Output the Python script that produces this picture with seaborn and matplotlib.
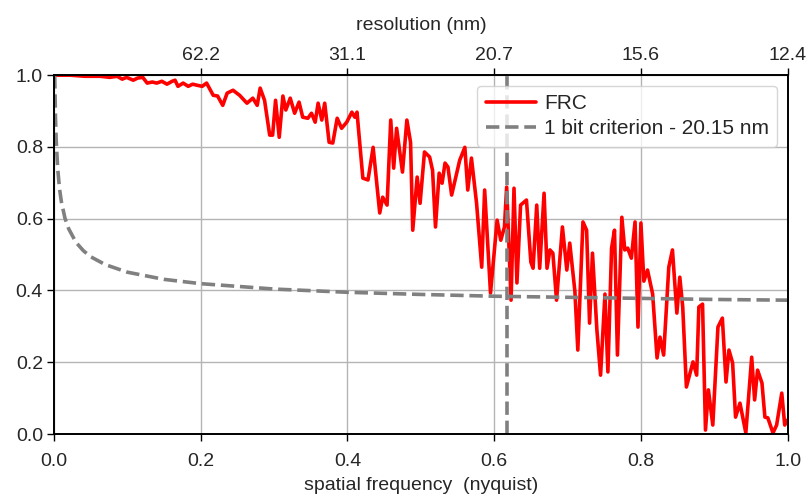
import matplotlib
matplotlib.use('Agg')
import matplotlib.pyplot as plt
import seaborn as sns

sns.set_theme(style='ticks', rc={'axes.edgecolor': 'black', 'grid.color': '#b4b4b4',
                                 'grid.linewidth': 1.0})
plt.rcParams['font.family'] = ['Liberation Sans', 'DejaVu Sans']
plt.rcParams['font.size'] = 14

# FRC curve (spatial frequency in nyquist units)
freq = [0.000, 0.022, 0.042, 0.063, 0.076, 0.086, 0.093, 0.099, 0.108, 0.114,
        0.121, 0.127, 0.134, 0.140, 0.147, 0.154, 0.161, 0.165, 0.169, 0.176,
        0.183, 0.189, 0.195, 0.202, 0.208, 0.217, 0.223, 0.230, 0.236, 0.244,
        0.253, 0.263, 0.271, 0.277, 0.281, 0.287, 0.294, 0.298, 0.302, 0.307,
        0.312, 0.316, 0.322, 0.328, 0.334, 0.339, 0.346, 0.351, 0.356, 0.360,
        0.365, 0.369, 0.375, 0.380, 0.386, 0.392, 0.399, 0.406, 0.410, 0.413,
        0.421, 0.428, 0.435, 0.444, 0.448, 0.454, 0.459, 0.463, 0.467, 0.475,
        0.481, 0.486, 0.489, 0.495, 0.499, 0.505, 0.512, 0.516, 0.520, 0.525,
        0.529, 0.533, 0.537, 0.542, 0.549, 0.553, 0.560, 0.564, 0.569, 0.576,
        0.583, 0.587, 0.595, 0.604, 0.609, 0.614, 0.617, 0.623, 0.627, 0.631,
        0.636, 0.644, 0.650, 0.653, 0.658, 0.662, 0.668, 0.672, 0.676, 0.680,
        0.685, 0.693, 0.699, 0.703, 0.710, 0.714, 0.721, 0.726, 0.730, 0.734,
        0.740, 0.745, 0.751, 0.755, 0.760, 0.764, 0.768, 0.774, 0.778, 0.782,
        0.787, 0.792, 0.796, 0.800, 0.804, 0.809, 0.816, 0.822, 0.826, 0.831,
        0.838, 0.843, 0.849, 0.853, 0.857, 0.862, 0.871, 0.876, 0.879, 0.884,
        0.888, 0.892, 0.898, 0.905, 0.911, 0.916, 0.920, 0.925, 0.929, 0.935,
        0.943, 0.951, 0.955, 0.959, 0.965, 0.969, 0.973, 0.980, 0.985, 0.992,
        0.996, 1.000]
frc = [1.000, 1.000, 0.997, 0.997, 0.994, 0.997, 0.989, 0.994, 0.986, 0.992,
       0.994, 0.978, 0.981, 0.978, 0.983, 0.975, 0.983, 0.986, 0.969, 0.978,
       0.969, 0.975, 0.972, 0.969, 0.978, 0.944, 0.942, 0.916, 0.950, 0.958,
       0.944, 0.922, 0.936, 0.916, 0.964, 0.930, 0.833, 0.833, 0.930, 0.827,
       0.942, 0.903, 0.936, 0.894, 0.925, 0.883, 0.880, 0.894, 0.869, 0.922,
       0.875, 0.922, 0.813, 0.811, 0.880, 0.852, 0.869, 0.897, 0.883, 0.897,
       0.713, 0.708, 0.799, 0.616, 0.660, 0.638, 0.875, 0.741, 0.852, 0.730,
       0.875, 0.813, 0.568, 0.716, 0.643, 0.786, 0.772, 0.735, 0.577, 0.727,
       0.699, 0.755, 0.744, 0.666, 0.727, 0.763, 0.799, 0.680, 0.769, 0.643,
       0.465, 0.680, 0.393, 0.596, 0.540, 0.577, 0.688, 0.373, 0.685, 0.421,
       0.638, 0.652, 0.479, 0.462, 0.638, 0.462, 0.671, 0.462, 0.513, 0.504,
       0.373, 0.577, 0.457, 0.532, 0.398, 0.234, 0.591, 0.568, 0.309, 0.504,
       0.290, 0.164, 0.390, 0.173, 0.518, 0.568, 0.220, 0.604, 0.513, 0.518,
       0.490, 0.591, 0.298, 0.588, 0.426, 0.457, 0.390, 0.212, 0.270, 0.220,
       0.465, 0.513, 0.337, 0.437, 0.354, 0.131, 0.201, 0.164, 0.354, 0.362,
       0.011, 0.123, 0.025, 0.298, 0.323, 0.145, 0.234, 0.198, 0.047, 0.086,
       0.003, 0.214, 0.095, 0.178, 0.142, 0.047, 0.045, 0.003, 0.025, 0.114,
       0.025, 0.039]

# 1 bit threshold curve
thr_freq = [0.001, 0.002, 0.003, 0.005, 0.0075, 0.01, 0.015, 0.02, 0.03, 0.04,
            0.05, 0.07, 0.1, 0.15, 0.2, 0.3, 0.4, 0.5, 0.6, 0.7, 0.8, 0.9, 1.0]
thr = [1.0, 0.883, 0.818, 0.741, 0.684, 0.648, 0.601, 0.572, 0.534, 0.511,
       0.494, 0.472, 0.451, 0.431, 0.419, 0.404, 0.395, 0.389, 0.384, 0.381,
       0.378, 0.375, 0.373]

cutoff = 0.617
cutoff_label = '1 bit criterion - 20.15 nm'

top_ticks = [0.2, 0.4, 0.6, 0.8, 1.0]
top_labels = ['62.2', '31.1', '20.7', '15.6', '12.4']

fig = plt.figure(figsize=(8.12, 4.98), dpi=100)
ax = fig.add_axes([0.0665, 0.1285, 0.9035, 0.7205])

sns.lineplot(x=freq, y=frc, ax=ax, color='red', lw=2.6, label='FRC')
sns.lineplot(x=thr_freq, y=thr, ax=ax, color='gray', lw=2.6, ls='--', label=cutoff_label)
ax.plot([cutoff, cutoff], [0, 1], color='gray', lw=2.6, ls='--')

ax.set_xlim(0, 1)
ax.set_ylim(0, 1)
ax.set_xticks([0.0, 0.2, 0.4, 0.6, 0.8, 1.0])
ax.set_yticks([0.0, 0.2, 0.4, 0.6, 0.8, 1.0])
ax.grid(True)
ax.set_xlabel('spatial frequency  (nyquist)', fontsize=14, labelpad=5)
ax.tick_params(axis='x', labelsize=14, length=5, width=1, color='black', pad=9)
ax.tick_params(axis='y', labelsize=14, length=5, width=1, color='black', pad=3)
for s in ax.spines.values():
    s.set_linewidth(1.2)

top = ax.twiny()
top.set_xlim(0, 1)
top.set_xticks(top_ticks)
top.set_xticklabels(top_labels)
top.set_xlabel('resolution (nm)', fontsize=14, labelpad=12)
top.tick_params(labelsize=14, length=5, width=1, color='black', pad=3)

leg = ax.legend(loc='upper right', fontsize=15, frameon=True, borderaxespad=0.5,
                handlelength=2.4, labelspacing=0.3, borderpad=0.4, handletextpad=0.4)
leg.get_frame().set_edgecolor('#cccccc')

fig.savefig('out.png', dpi=100)
